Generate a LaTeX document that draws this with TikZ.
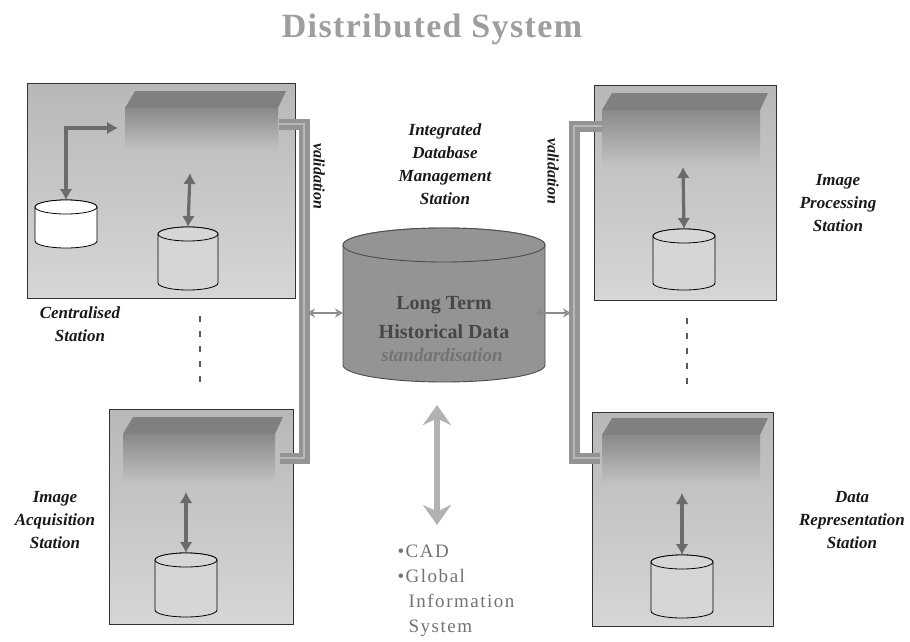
\documentclass[tikz,border=0pt]{standalone}
\usepackage{fontspec}
\setmainfont{Liberation Serif}
\newfontfamily\titlefont[LetterSpace=4]{Liberation Serif}
\newfontfamily\listfont[LetterSpace=8]{Liberation Serif}
\usetikzlibrary{arrows.meta,calc}

\tikzset{
  stationbox/.style={draw=black!80, line width=0.8pt, top color=black!28, bottom color=black!16,
    inner sep=0pt, anchor=north west},
  lbl/.style={font=\bfseries\itshape\fontsize{17}{23}\selectfont, align=center, text=black!90},
  dbtxt/.style={font=\bfseries\fontsize{20}{29}\selectfont, text=black!72, align=center},
  twoway/.style={draw=black!58, line width=3.2pt, {Latex[length=11pt,width=13pt]}-{Latex[length=11pt,width=13pt]}},
  link/.style={draw=black!42, line width=4.5pt, double=black!28, double distance=2pt, line join=miter},
  smallway/.style={draw=black!45, line width=1.4pt, {Stealth[length=8pt,width=9pt,open]}-{Stealth[length=8pt,width=9pt,open]}},
  bigway/.style={draw=black!30, line width=6pt, {Stealth[length=20pt,width=28pt]}-{Stealth[length=20pt,width=28pt]}},
  dots/.style={draw=black!65, line width=1.3pt, dash pattern=on 6pt off 9pt},
  cylwhite/.style={draw=black, line width=0.8pt, fill=white},
  cylgray/.style={draw=black, line width=0.8pt, fill=black!16},
  cylbig/.style={draw=black!70, line width=0.9pt, fill=black!42},
  listtxt/.style={font=\listfont\fontsize{19}{25}\selectfont, text=black!55, anchor=base west},
}

% cylinder: name, centre x, top-ellipse y, bottom-ellipse y, rx, ry, style
\newcommand\dbcyl[7]{%
  \path[#7] ({#2-#5},#3) -- ({#2-#5},#4)
    arc[start angle=180,end angle=0,x radius=#5,y radius=#6] -- ({#2+#5},#3)
    arc[start angle=0,end angle=-180,x radius=#5,y radius=#6] -- cycle;
  \path[#7] (#2,#3) ellipse[x radius=#5,y radius=#6];
  \coordinate (#1-top) at (#2,{#3-#6});
}

% shaded processing slab: name, left x, right x, top y, bottom y
\newcommand\slab[5]{%
  \fill[black!50] ({#2+10},#4) -- (#3,#4) -- ({#3-8},{#4+17}) -- (#2,{#4+17}) -- cycle;
  \shade[top color=black!46, bottom color=black!24] (#2,{#4+17}) rectangle ({#3-8},#5);
  \coordinate (#1-bot) at ({(#2+#3)/2},#5);
}

\begin{document}
\begin{tikzpicture}[x=1pt,y=-1pt]
\useasboundingbox (0,0) rectangle (910,642);
\fill[white] (0,0) rectangle (910,642);

% title
\node[font=\titlefont\bfseries\fontsize{34}{40}\selectfont, text=black!38, anchor=base] (title) at (432,38) {Distributed System};

% station boxes
\node[stationbox, minimum width=268pt, minimum height=215pt] (cen) at (27,83) {};
\node[stationbox, minimum width=182pt, minimum height=215pt] (proc) at (594,85) {};
\node[stationbox, minimum width=184pt, minimum height=215pt] (acq) at (109,409) {};
\node[stationbox, minimum width=181pt, minimum height=214pt] (rep) at (592,412) {};

% slabs inside the boxes
\slab{cs}{125}{286}{91}{150}
\slab{ps}{602}{768}{93}{165}
\slab{as}{123}{283}{417}{483}
\slab{rs}{602}{768}{418}{483}

% local databases
\dbcyl{cw}{66}{207}{241}{31}{7}{cylwhite}
\dbcyl{cg}{188}{234}{283}{30}{7}{cylgray}
\dbcyl{pg}{684}{236}{283}{31}{7}{cylgray}
\dbcyl{ag}{186}{560}{610}{31}{7}{cylgray}
\dbcyl{rg}{682}{562}{611}{31}{7}{cylgray}

% central database
\dbcyl{main}{444}{245}{365}{101}{17}{cylbig}
\node[dbtxt] (maintxt) at (444,318) {Long Term\\Historical Data};
\node[font=\bfseries\itshape\fontsize{19}{24}\selectfont, text=black!55] (std) at (442,355) {standardisation};

% local arrows
\coordinate (cs-in) at (118,128);
\draw[twoway] (cw-top) |- (cs-in);
\draw[twoway] (190,173) -- (cg-top);
\draw[twoway] (683,167) -- (pg-top);
\draw[twoway] (186,492) -- (ag-top);
\draw[twoway] (682,493) -- (rg-top);

% validation links
\coordinate (cl1) at (279,124);
\coordinate (cl2) at (280,458);
\coordinate (cr1) at (602,126);
\coordinate (cr2) at (600,458);
\draw[link] (cl1) -- (304,124) -- (304,458) -- (cl2);
\draw[link] (cr1) -- (574,126) -- (574,458) -- (cr2);
\node[lbl, font=\bfseries\itshape\fontsize{16}{20}\selectfont, rotate=-90] (vl) at (319,176) {validation};
\node[lbl, font=\bfseries\itshape\fontsize{16}{20}\selectfont, rotate=-90] (vr) at (553,171) {validation};

% links to the central database
\coordinate (la) at (307,313);
\coordinate (lb) at (343,313);
\coordinate (ra) at (534,313);
\coordinate (rb) at (571,313);
\draw[smallway] (la) -- (lb);
\draw[smallway] (ra) -- (rb);

% external systems
\coordinate (ea) at (437,405);
\coordinate (eb) at (437,525);
\draw[bigway] (ea) -- (eb);

% continuation marks
\draw[dots] (200,316) -- (200,388);
\draw[dots] (687,318) -- (687,390);

% labels
\node[lbl] (lcen) at (80,324) {Centralised\\Station};
\node[lbl] (lint) at (445,164) {Integrated\\Database\\Management\\Station};
\node[lbl] (lproc) at (838,203) {Image\\Processing\\Station};
\node[lbl] (lacq) at (55,520) {Image\\Acquisition\\Station};
\node[lbl] (lrep) at (852,520) {Data\\Representation\\Station};

\node[listtxt] (l1) at (394,557) {•CAD};
\node[listtxt] (l2) at (394,582) {•Global};
\node[listtxt] (l3) at (405,607) {Information};
\node[listtxt] (l4) at (405,632) {System};
\end{tikzpicture}
\end{document}
